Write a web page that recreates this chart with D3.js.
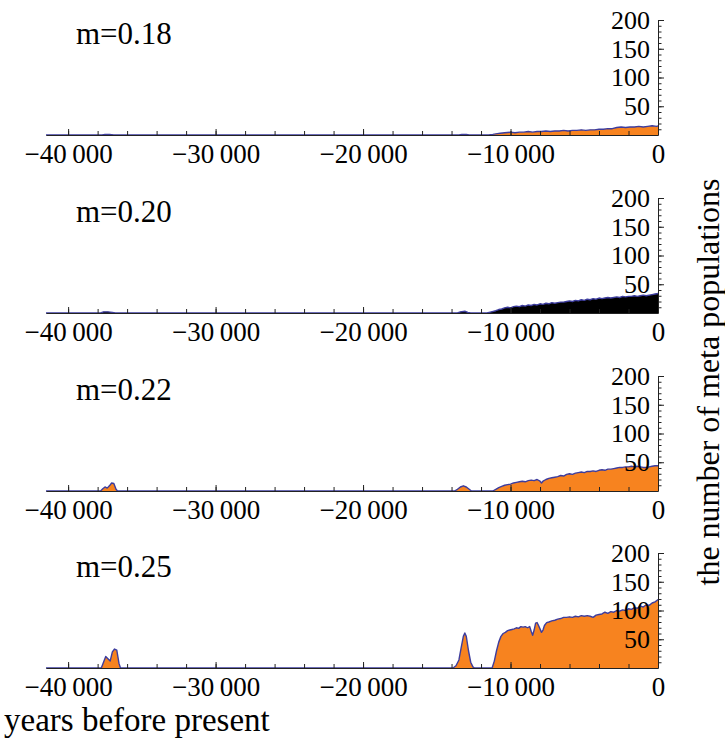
<!DOCTYPE html>
<html>
<head>
<meta charset="utf-8">
<script src="https://cdn.jsdelivr.net/npm/d3@7"></script>
<style>
  body { margin: 0; background: #fff; }
  text { font-family: "Liberation Serif", "Times New Roman", serif; fill: #000; }
</style>
</head>
<body>
<div id="chart"></div>
<script>
// panel labels (migration rate m)
const panelLabels = ['m=0.18', 'm=0.20', 'm=0.22', 'm=0.25']

// m = 0.18
const years18 = [-41500, -37700, -37500, -37200, -36900, -13500, -13300, -13000, -12800, -11500, -11200, -11000, -10700, -10400, -10000, -9700, -9400, -9100, -8800, -8500, -8200, -7900, -7600, -7300, -7000, -6700, -6400, -6100, -5800, -5500, -5200, -4900, -4600, -4300, -4000, -3700, -3400, -3100, -2800, -2500, -2200, -1900, -1600, -1300, -1000, -700, -400, -100, 0]
const counts18 = [0, 0, 1, 1, 0, 0, 1, 1, 0, 0, 1, 2, 3, 4, 5, 4, 5, 5, 6, 5, 6, 6, 7, 6, 7, 7, 8, 7, 8, 8, 9, 8, 9, 9, 10, 10, 11, 11, 13, 14, 13, 14, 14, 15, 14, 15, 16, 15, 16]

// m = 0.20
const years20 = [-41500, -37800, -37600, -37300, -37000, -36800, -13600, -13400, -13100, -12900, -12700, -11600, -11300, -11000, -10800, -10600, -10400, -10200, -10000, -9800, -9600, -9400, -9200, -9000, -8800, -8600, -8400, -8200, -8000, -7800, -7600, -7400, -7200, -7000, -6800, -6600, -6400, -6200, -6000, -5800, -5600, -5400, -5200, -5000, -4800, -4600, -4400, -4200, -4000, -3800, -3600, -3400, -3200, -3000, -2800, -2600, -2400, -2200, -2000, -1800, -1600, -1400, -1200, -1000, -800, -600, -400, -200, 0]
const counts20 = [0, 0, 2, 2, 1, 0, 0, 2, 3, 1, 0, 0, 2, 4, 6, 7, 9, 10, 9, 11, 12, 11, 13, 12, 14, 13, 15, 14, 16, 15, 17, 16, 18, 17, 18, 19, 19, 20, 21, 20, 22, 21, 23, 22, 24, 23, 25, 24, 26, 25, 26, 27, 26, 27, 28, 27, 29, 28, 29, 29, 30, 29, 30, 31, 30, 31, 32, 33, 34]

// m = 0.22
const years22 = [-41500, -37800, -37650, -37500, -37350, -37200, -37050, -36900, -36750, -36650, -13800, -13600, -13400, -13200, -13000, -12800, -12650, -11200, -11000, -10800, -10600, -10400, -10200, -10000, -9800, -9600, -9400, -9200, -9000, -8800, -8600, -8400, -8200, -8000, -7900, -7800, -7600, -7400, -7200, -7000, -6800, -6600, -6400, -6200, -6000, -5800, -5600, -5400, -5200, -5000, -4800, -4600, -4400, -4200, -4000, -3800, -3600, -3400, -3200, -3000, -2800, -2600, -2400, -2200, -2000, -1800, -1600, -1400, -1200, -1000, -800, -600, -400, -200, 0]
const counts22 = [0, 0, 4, 7, 5, 9, 14, 13, 3, 0, 0, 3, 7, 9, 7, 3, 0, 0, 3, 6, 8, 10, 11, 12, 14, 15, 16, 17, 16, 18, 19, 18, 20, 17, 14, 17, 20, 22, 23, 24, 25, 27, 26, 29, 30, 29, 31, 32, 33, 32, 34, 34, 35, 34, 36, 37, 36, 38, 38, 39, 40, 41, 41, 42, 42, 43, 42, 43, 42, 41, 41, 42, 43, 44, 44]

// m = 0.25
const years25 = [-41500, -37750, -37600, -37450, -37300, -37150, -37000, -36850, -36700, -36550, -36450, -13900, -13700, -13500, -13350, -13200, -13100, -13000, -12850, -12700, -12550, -12450, -11250, -11100, -10950, -10800, -10650, -10500, -10350, -10200, -10050, -9900, -9750, -9600, -9450, -9300, -9150, -9000, -8850, -8700, -8600, -8500, -8400, -8300, -8200, -8100, -8000, -7900, -7800, -7700, -7550, -7400, -7200, -7000, -6800, -6600, -6400, -6200, -6000, -5800, -5600, -5400, -5200, -5000, -4800, -4600, -4400, -4200, -4000, -3800, -3600, -3400, -3200, -3000, -2800, -2600, -2400, -2200, -2000, -1800, -1600, -1400, -1200, -1000, -800, -600, -400, -200, -100, 0]
const counts25 = [0, 0, 10, 20, 16, 12, 28, 33, 31, 8, 0, 0, 4, 14, 35, 55, 61, 55, 30, 10, 2, 0, 0, 12, 30, 45, 55, 60, 62, 65, 66, 67, 68, 70, 69, 72, 71, 72, 70, 72, 64, 57, 66, 78, 79, 74, 68, 62, 66, 74, 79, 80, 82, 83, 85, 86, 88, 88, 89, 88, 90, 89, 91, 90, 91, 90, 88, 92, 93, 94, 97, 95, 98, 97, 100, 99, 101, 100, 103, 102, 105, 104, 108, 106, 110, 109, 113, 115, 117, 119]

const panelYears = [years18, years20, years22, years25]
const panelCounts = [counts18, counts20, counts22, counts25]
const panelFills = ['#f7831f', '#000000', '#f7831f', '#f7831f']

const xTicks = d3.range(-40000, 1, 2000)
const xLabels = [-40000, -30000, -20000, -10000, 0]
const yMinor = d3.range(10, 201, 10)
const yLabels = [50, 100, 150, 200]

const width = 725, height = 738
const baselines = [135, 313, 491, 668]
const plotH = 115
const lineColor = '#3d3d9e'
const serif = '"Liberation Serif", "Times New Roman", serif'

const svg = d3.select('#chart').append('svg')
    .attr('width', width)
    .attr('height', height)

svg.append('rect').attr('width', width).attr('height', height).attr('fill', '#fff')

const x = d3.scaleLinear().domain([-41500, 0]).range([46, 658])
const y = d3.scaleLinear().domain([0, 200]).range([plotH, 0])

// number format like Mathematica: −40 000
const fmt = d => {
    if (d === 0) return '0'
    let s = d3.format(',')(Math.abs(d)).replace(',', '\u2009')
    return (d < 0 ? '\u2212' : '') + s
}

panelLabels.forEach((label, i) => {
    let g = svg.append('g')
        .attr('transform', `translate(0,${baselines[i] - plotH})`)

    let pts = panelYears[i].map((yr, j) => [yr, panelCounts[i][j]])

    let area = d3.area()
        .x(d => x(d[0]))
        .y0(y(0))
        .y1(d => y(d[1]))

    let line = d3.line()
        .x(d => x(d[0]))
        .y(d => y(d[1]))

    g.append('path')
        .datum(pts)
        .attr('d', area)
        .attr('fill', panelFills[i])

    g.append('path')
        .datum(pts)
        .attr('d', line)
        .attr('fill', 'none')
        .attr('stroke', lineColor)
        .attr('stroke-width', 1.4)
        .attr('stroke-linejoin', 'round')

    // x axis - minor ticks then labelled major ticks
    g.append('g')
        .attr('transform', `translate(0,${plotH})`)
        .call(d3.axisBottom(x).tickValues(xTicks).tickSize(-4).tickSizeOuter(0).tickFormat(''))
        .call(a => a.selectAll('line').attr('stroke', '#222'))
        .call(a => a.select('.domain').attr('stroke', '#222'))

    g.append('g')
        .attr('transform', `translate(0,${plotH})`)
        .call(d3.axisBottom(x).tickValues(xLabels).tickSize(-6).tickSizeOuter(0).tickPadding(9).tickFormat(fmt))
        .call(a => a.select('.domain').remove())
        .call(a => a.selectAll('line').attr('stroke', '#222'))
        .call(a => a.selectAll('text')
            .attr('font-family', serif)
            .attr('font-size', 27)
            .attr('fill', '#111'))

    // y axis at x = 0
    g.append('g')
        .attr('transform', `translate(${x(0)},0)`)
        .call(d3.axisLeft(y).tickValues(yMinor).tickSize(-3.5).tickSizeOuter(0).tickFormat(''))
        .call(a => a.select('.domain').attr('stroke', '#222'))
        .call(a => a.selectAll('line').attr('stroke', '#222'))

    g.append('g')
        .attr('transform', `translate(${x(0)},0)`)
        .call(d3.axisLeft(y).tickValues(yLabels).tickSize(-6).tickSizeOuter(0).tickPadding(8))
        .call(a => a.select('.domain').remove())
        .call(a => a.selectAll('line').attr('stroke', '#222'))
        .call(a => a.selectAll('text')
            .attr('font-family', serif)
            .attr('font-size', 26)
            .attr('fill', '#111'))

    // panel label
    g.append('text')
        .attr('x', 76)
        .attr('y', 44 - (135 - plotH))
        .attr('font-size', 31)
        .text(label)
})

// axis titles
svg.append('text')
    .attr('transform', 'translate(719,382) rotate(-90)')
    .attr('text-anchor', 'middle')
    .attr('font-size', 32)
    .text('the number of meta populations')

svg.append('text')
    .attr('x', 4)
    .attr('y', 731)
    .attr('font-size', 33)
    .text('years before present')
</script>
</body>
</html>
